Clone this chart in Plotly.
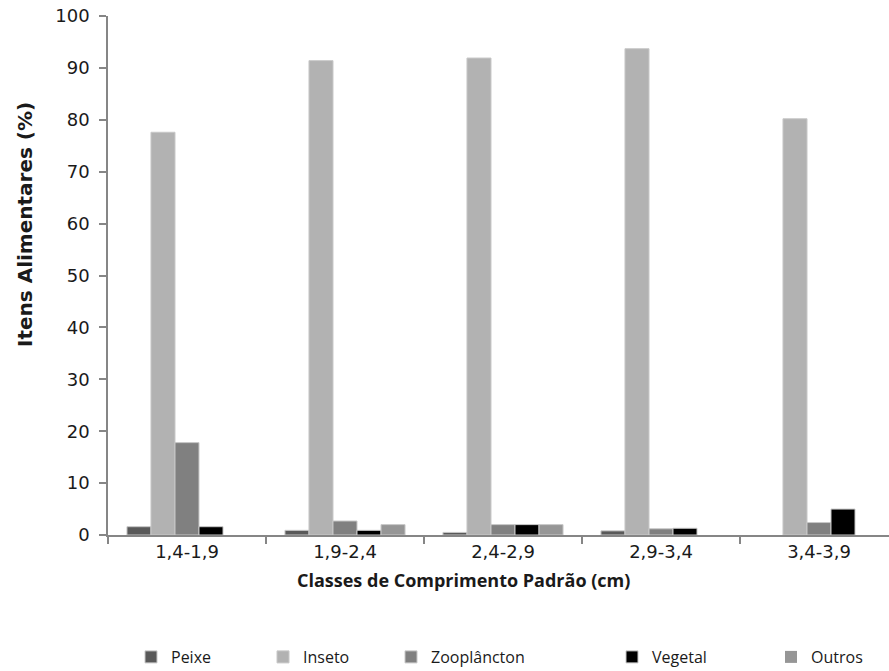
import plotly.graph_objects as go

# Classes de comprimento padrão (cm)
classes = ["1,4-1,9", "1,9-2,4", "2,4-2,9", "2,9-3,4", "3,4-3,9"]

# Itens alimentares (%) por classe
peixe = [1.6, 0.9, 0.5, 0.8, 0.0]
inseto = [77.6, 91.4, 91.9, 93.7, 80.2]
zooplancton = [17.8, 2.7, 2.0, 1.2, 2.4]
vegetal = [1.6, 0.9, 2.0, 1.3, 5.0]
outros = [0.0, 2.0, 2.0, 0.0, 0.0]

series = [
    ("Peixe", peixe, "#595959"),
    ("Inseto", inseto, "#b2b2b2"),
    ("Zooplâncton", zooplancton, "#808080"),
    ("Vegetal", vegetal, "#000000"),
    ("Outros", outros, "#969696"),
]

W, H = 889, 671
PLOT_L, PLOT_R, PLOT_T, PLOT_B = 108, 889, 16, 535
# left edge (px) of each legend entry text
legend_text_px = [164, 296, 424, 645, 804]

fig = go.Figure()
for i, (name, vals, color) in enumerate(series):
    lg = "legend" if i == 0 else f"legend{i + 1}"
    fig.add_trace(go.Bar(
        x=classes, y=vals, name=name, legend=lg,
        marker=dict(
            color=color,
            # no outline on empty bars, so nothing is drawn at zero
            line=dict(color="#c8c8c8", width=[1 if v > 0 else 0 for v in vals]),
        ),
    ))

legend_font = dict(family="Open Sans, sans-serif", size=16, color="#1a1a1a")
legends = {}
for i, px in enumerate(legend_text_px):
    key = "legend" if i == 0 else f"legend{i + 1}"
    legends[key] = dict(
        xref="container", yref="container",
        x=(px - 33) / W, y=1 - 657 / H,
        xanchor="left", yanchor="middle",
        orientation="h", font=legend_font,
        bgcolor="rgba(0,0,0,0)", borderwidth=0,
        itemwidth=30,
    )

tick_font = dict(family="DejaVu Sans, Verdana, sans-serif", size=18, color="#1a1a1a")

fig.update_layout(
    width=W, height=H,
    margin=dict(l=PLOT_L, r=W - PLOT_R, t=PLOT_T, b=H - PLOT_B),
    paper_bgcolor="white", plot_bgcolor="white",
    barmode="group", bargap=0.24, bargroupgap=0,
    showlegend=True,
    xaxis=dict(
        type="category", range=[-0.5, 4.443],
        showline=True, linecolor="#868686", linewidth=1.5,
        ticks="outside", tickson="boundaries", ticklen=7, tickcolor="#868686", tickwidth=1.5,
        tickfont=tick_font,
        showgrid=False, zeroline=False,
    ),
    yaxis=dict(
        range=[0, 100], dtick=10,
        showline=True, linecolor="#868686", linewidth=1.5,
        ticks="outside", ticklen=7, tickcolor="#868686", tickwidth=1.5,
        tickfont=tick_font, ticklabelstandoff=6,
        showgrid=False, zeroline=False,
    ),
    annotations=[
        dict(
            text="<b>Classes de Comprimento Padrão (cm)</b>",
            xref="paper", yref="paper",
            x=(463 - PLOT_L) / (PLOT_R - PLOT_L), y=-(580 - PLOT_B) / (PLOT_B - PLOT_T),
            xanchor="center", yanchor="middle", showarrow=False,
            font=dict(family="Open Sans, sans-serif", size=18, color="#1a1a1a"),
        ),
        dict(
            text="<b>Itens Alimentares (%)</b>",
            xref="paper", yref="paper", textangle=-90,
            x=-(PLOT_L - 25) / (PLOT_R - PLOT_L), y=(PLOT_B - 225) / (PLOT_B - PLOT_T),
            xanchor="center", yanchor="middle", showarrow=False,
            font=dict(family="DejaVu Sans, Verdana, sans-serif", size=20, color="#1a1a1a"),
        ),
    ],
    **legends,
)

fig.write_html("out.html")
